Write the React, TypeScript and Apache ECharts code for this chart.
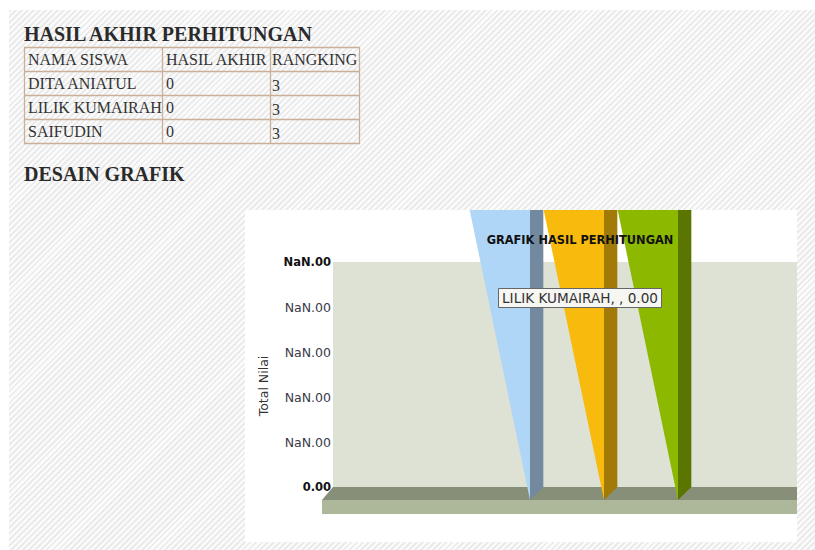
import React, { useEffect, useRef } from "react";
import * as echarts from "echarts";

const students = ["DITA ANIATUL", "LILIK KUMAIRAH", "SAIFUDIN"];
const tableHeader = ["NAMA SISWA", "HASIL AKHIR", "RANGKING"];
const finalScores = ["0", "0", "0"];
const rankings = ["3", "3", "3"];
const yTickLabels = ["0.00", "NaN.00", "NaN.00", "NaN.00", "NaN.00", "NaN.00"];
const barValues = [6.44, 6.44, 6.44];
const barColors = ["#afd5f7", "#f7ba0d", "#8cb900"];
const barSideColors = ["#7289a0", "#a27a08", "#5a7600"];

const colX = [24, 162, 270, 359];
const rowY = [47, 71, 95, 119, 143];
const serif = "'Liberation Serif', serif";
const sans = "'DejaVu Sans', sans-serif";

function tableGraphics() {
  const out: any[] = [];
  const line = { stroke: "#c9b199", lineWidth: 1.3 };
  colX.forEach((x) => out.push({ type: "line", shape: { x1: x + 0.5, y1: rowY[0], x2: x + 0.5, y2: rowY[4] + 1 }, style: line }));
  rowY.forEach((y) => out.push({ type: "line", shape: { x1: colX[0], y1: y + 0.5, x2: colX[3] + 1, y2: y + 0.5 }, style: line }));
  const rows = [tableHeader, ...students.map((s, i) => [s, finalScores[i], rankings[i]])];
  rows.forEach((row, r) =>
    row.forEach((t, c) =>
      out.push({
        type: "text",
        x: colX[c] + (c === 2 ? 2 : 4),
        y: rowY[r] + 12 + (r > 0 && c === 2 ? 2 : 0),
        style: { text: t, font: `16px ${serif}`, fill: "#333333", textVerticalAlign: "middle" },
      })
    )
  );
  return out;
}

export default function App() {
  const ref = useRef<HTMLDivElement>(null);
  useEffect(() => {
    const chart = echarts.init(ref.current!, undefined, { renderer: "svg" });
    chart.setOption({
      animation: false,
      backgroundColor: "transparent",
      grid: [
        { left: 333, top: 262, width: 464, height: 225, show: true, backgroundColor: "#dde2d5", borderWidth: 0, z: 1 },
        { left: 493, top: 210, width: 222, height: 290, show: false },
      ],
      xAxis: [
        { gridIndex: 0, type: "value", show: false, min: 0, max: 1 },
        { gridIndex: 1, type: "category", data: students, show: false },
      ],
      yAxis: [
        {
          gridIndex: 0,
          type: "value",
          min: 0,
          max: 5,
          interval: 1,
          axisLine: { show: false },
          axisTick: { show: false },
          splitLine: { lineStyle: { color: "#cdd0c8", width: 1 } },
          axisLabel: {
            margin: 2,
            fontFamily: sans,
            fontSize: 12.5,
            color: "#3a3a4a",
            formatter: (_v: number, i: number) =>
              i === 0 || i === yTickLabels.length - 1 ? `{b|${yTickLabels[i]}}` : yTickLabels[i],
            rich: { b: { fontFamily: sans, fontSize: 11.5, fontWeight: "bold", color: "#111" } },
          },
        },
        { gridIndex: 1, type: "value", show: false, min: 0, max: 6.44 },
      ],
      series: [
        {
          type: "custom",
          xAxisIndex: 1,
          yAxisIndex: 1,
          clip: false,
          z: 5,
          data: barValues.map((v, i) => [i, v]),
          renderItem: (_p: any, api: any) => {
            const i = api.value(0);
            const [cx, y0] = api.coord([i, 0]);
            const [, yTop] = api.coord([i, api.value(1)]);
            const band = api.size([1, 0])[0];
            const w = band * 0.815;
            const d = band * 0.18;
            return {
              type: "group",
              children: [
                { type: "polygon", shape: { points: [[cx, y0], [cx + d, y0 - 13], [cx + d, yTop], [cx, yTop]] }, style: { fill: barSideColors[i] } },
                { type: "polygon", shape: { points: [[cx, y0], [cx, yTop], [cx - w, yTop]] }, style: { fill: barColors[i] } },
              ],
            };
          },
        },
      ],
      graphic: [
        { type: "rect", z: -10, shape: { x: 245, y: 210, width: 552, height: 332 }, style: { fill: "#ffffff" } },
        { type: "polygon", z: 3, shape: { points: [[333, 487], [797, 487], [797, 500], [322, 500]] }, style: { fill: "#878f78" } },
        { type: "rect", z: 3, shape: { x: 322, y: 500, width: 475, height: 14 }, style: { fill: "#adb89a" } },
        { type: "text", z: 20, x: 24, y: 34, style: { text: "HASIL AKHIR PERHITUNGAN", font: `bold 20px ${serif}`, fill: "#2a2a2a", textVerticalAlign: "middle" } },
        { type: "text", z: 20, x: 24, y: 174, style: { text: "DESAIN GRAFIK", font: `bold 20px ${serif}`, fill: "#2a2a2a", textVerticalAlign: "middle" } },
        { type: "text", z: 20, x: 263, y: 386, rotation: Math.PI / 2, style: { text: "Total Nilai", font: `12.5px ${sans}`, fill: "#333", textAlign: "center", textVerticalAlign: "middle" } },
        { type: "text", z: 20, x: 580, y: 240, style: { text: "GRAFIK HASIL PERHITUNGAN", font: `bold 11.4px ${sans}`, fill: "#111", textAlign: "center", textVerticalAlign: "middle" } },
        { type: "rect", z: 20, shape: { x: 498.5, y: 288.5, width: 163, height: 19 }, style: { fill: "#f6f6f2", stroke: "#666", lineWidth: 1 } },
        { type: "text", z: 21, x: 580, y: 298, style: { text: "LILIK KUMAIRAH, , 0.00", font: `13.6px ${sans}`, fill: "#333", textAlign: "center", textVerticalAlign: "middle" } },
        ...tableGraphics().map((g) => ({ ...g, z: 20 })),
      ],
    });
    return () => chart.dispose();
  }, []);
  return (
    <div style={{ position: "absolute", left: 0, top: 0, width: 815, height: 550, background: "#fff", overflow: "hidden" }}>
      <div
        style={{
          position: "absolute",
          left: 9,
          top: 10,
          width: 806,
          height: 540,
          background: "repeating-linear-gradient(135deg, #ebebeb 0, #ebebeb 2px, #fbfbfb 2px, #fbfbfb 4.2px)",
        }}
      />
      <div ref={ref} style={{ position: "absolute", left: 0, top: 0, width: 815, height: 550 }} />
    </div>
  );
}
